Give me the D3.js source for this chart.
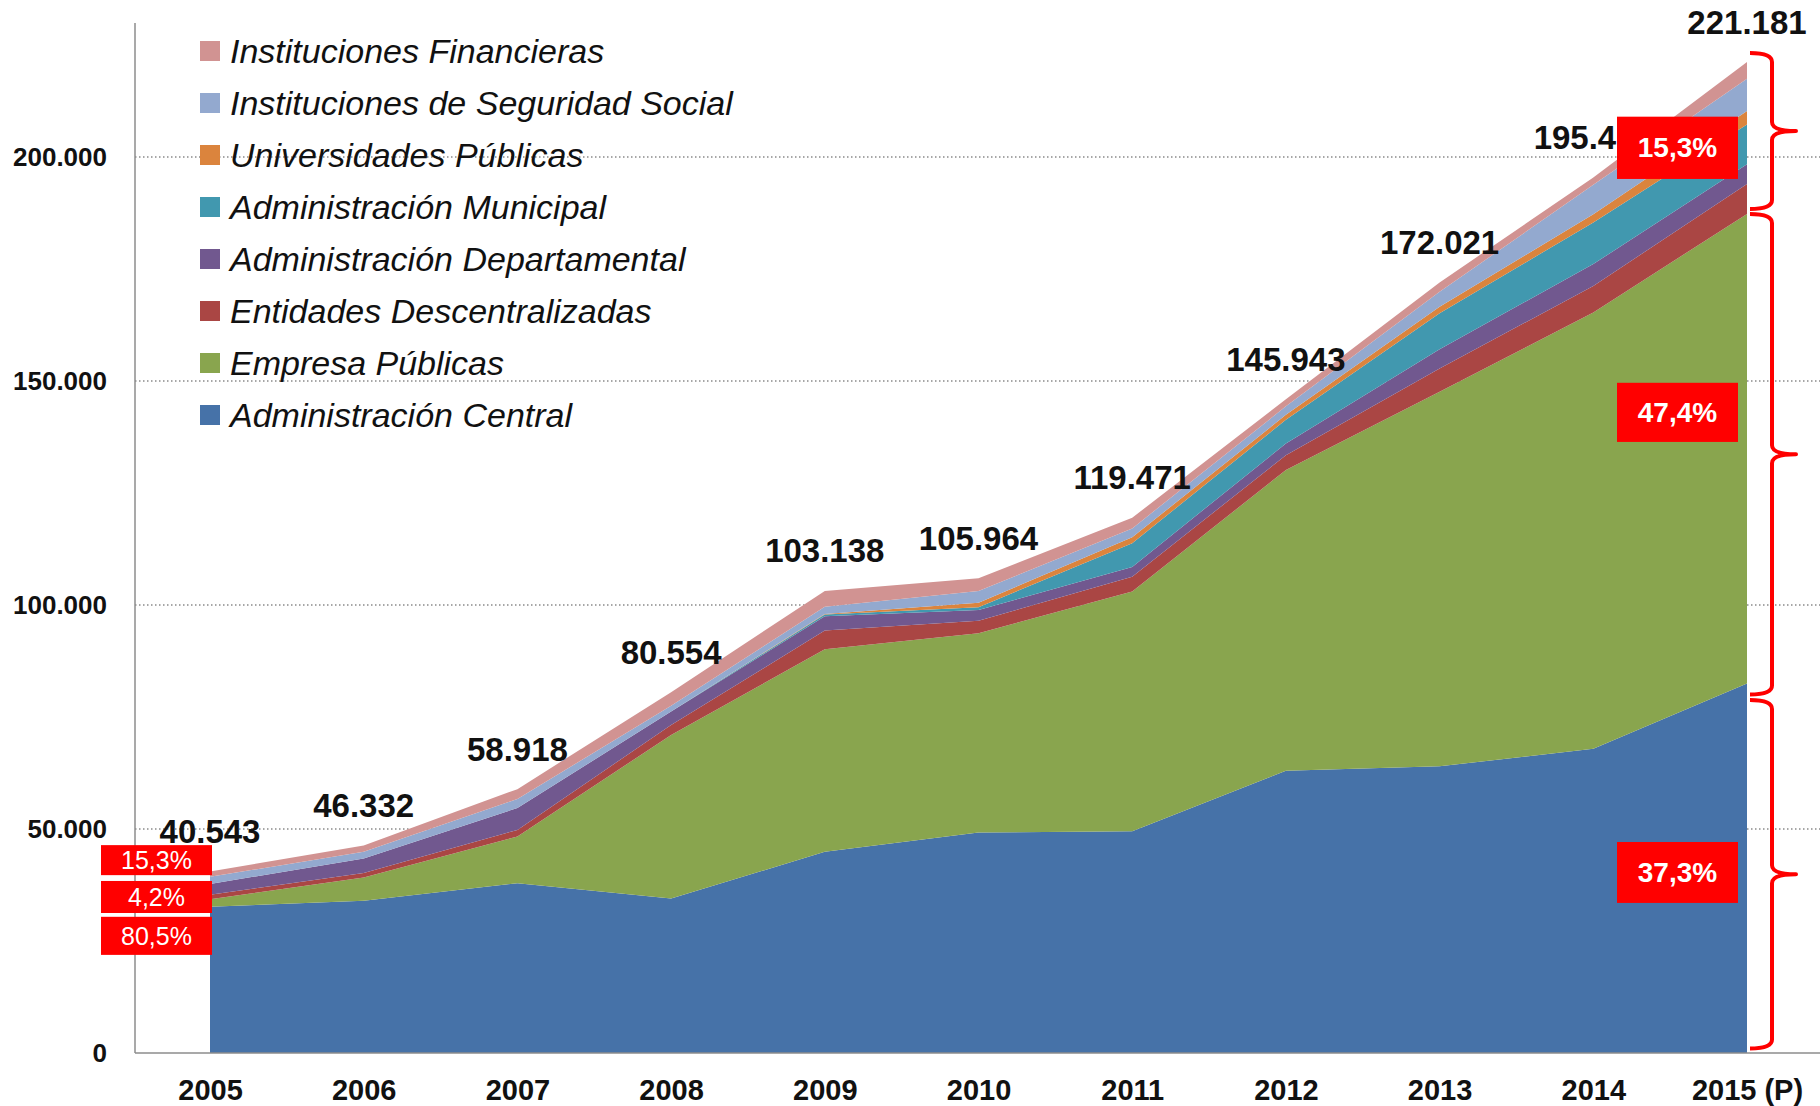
<!DOCTYPE html>
<html>
<head>
<meta charset="utf-8">
<script src="https://cdn.jsdelivr.net/npm/d3@7"></script>
<style>
  body { margin: 0; background: #fff; }
  svg { display: block; }
</style>
</head>
<body>
<svg id="chart" width="1820" height="1106"></svg>
<script>
const years = ['2005', '2006', '2007', '2008', '2009', '2010', '2011', '2012', '2013', '2014', '2015 (P)'];

// millones (bottom layer first)
const central        = [32640, 34000, 37900, 34500, 44900, 49200, 49500, 63000, 64000, 67900, 82500];
const empresas       = [1700, 5200, 10400, 36500, 45200, 44500, 53500, 67140, 83600, 97400, 104800];
const entidades      = [1000, 1000, 1500, 2200, 4200, 2800, 3300, 3300, 5200, 5900, 6680];
const departamental  = [2400, 3200, 4900, 3000, 3200, 2400, 2200, 2600, 4300, 4900, 4400];
const municipal      = [0, 0, 0, 0, 400, 600, 5300, 5300, 8000, 9300, 8900];
const universidades  = [0, 0, 0, 0, 100, 1000, 1300, 1100, 1500, 1800, 3000];
const seguridad      = [1600, 1500, 2000, 1300, 1600, 2600, 2000, 1900, 3300, 6600, 7200];
const financieras    = [1200, 1400, 2200, 3050, 3540, 2860, 2370, 1600, 2100, 1600, 3700];

const totals = [40543, 46332, 58918, 80554, 103138, 105964, 119471, 145943, 172021, 195400, 221181];
const yTicks = [0, 50000, 100000, 150000, 200000];

const seriesNames = [
  'Administración Central', 'Empresa Públicas', 'Entidades Descentralizadas',
  'Administración Departamental', 'Administración Municipal', 'Universidades Públicas',
  'Instituciones de Seguridad Social', 'Instituciones Financieras'
];
const seriesValues = [central, empresas, entidades, departamental, municipal, universidades, seguridad, financieras];
const colors = ['#4672A8', '#89A54E', '#AA4644', '#71588F', '#4198AF', '#DB843D', '#93A9CF', '#D19392'];

// annotation boxes (value ranges in data units)
const leftBoxes = [
  { text: '15,3%', top: 46400, bottom: 39700 },
  { text: '4,2%', top: 38400, bottom: 31250 },
  { text: '80,5%', top: 30400, bottom: 21900 }
];
const rightBoxes = [
  { text: '15,3%', top: 209000, bottom: 195100 },
  { text: '47,4%', top: 149600, bottom: 136400 },
  { text: '37,3%', top: 47100, bottom: 33500 }
];
const braces = [[188400, 223200], [80000, 187300], [1000, 78800]];

const fmt = d3.formatLocale({ decimal: ',', thousands: '.', grouping: [3], currency: ['', ''] }).format(',d');

const svg = d3.select('#chart');
const axisX = 135, baseY = 1053, rightX = 1820;

const x = d3.scalePoint().domain(years).range([210, 1747]);
const y = d3.scaleLinear().domain([0, 200000]).range([baseY, 157]);

const table = years.map((yr, i) => {
  const row = { year: yr };
  seriesNames.forEach((n, k) => row[n] = seriesValues[k][i]);
  return row;
});
const stacked = d3.stack().keys(seriesNames)(table);

// gridlines
svg.append('g')
  .selectAll('line')
  .data(yTicks.filter(d => d > 0))
  .join('line')
    .attr('x1', axisX).attr('x2', rightX)
    .attr('y1', d => y(d)).attr('y2', d => y(d))
    .attr('stroke', '#8a8a8a')
    .attr('stroke-width', 1.5)
    .attr('stroke-dasharray', '1.5,2.5');

const area = d3.area()
  .x(d => x(d.data.year))
  .y0(d => y(d[0]))
  .y1(d => y(d[1]));

svg.append('g')
  .selectAll('path')
  .data(stacked)
  .join('path')
    .attr('fill', (d, i) => colors[i])
    .attr('d', area);

// axes
svg.append('line')
  .attr('x1', axisX).attr('x2', axisX)
  .attr('y1', 23).attr('y2', baseY)
  .attr('stroke', '#8c8c8c').attr('stroke-width', 1.5);
svg.append('line')
  .attr('x1', axisX).attr('x2', rightX)
  .attr('y1', baseY).attr('y2', baseY)
  .attr('stroke', '#8c8c8c').attr('stroke-width', 1.5);

const yAxis = svg.append('g')
  .attr('transform', `translate(${axisX},0)`)
  .call(d3.axisLeft(y).tickValues(yTicks).tickFormat(fmt).tickSize(0).tickPadding(28));
yAxis.select('.domain').remove();
yAxis.selectAll('text')
  .attr('font-family', 'Liberation Sans, Arial, sans-serif')
  .attr('font-size', 26)
  .attr('font-weight', 'bold')
  .attr('fill', '#111');

const xAxis = svg.append('g')
  .attr('transform', `translate(0,${baseY})`)
  .call(d3.axisBottom(x).tickSize(0).tickPadding(26));
xAxis.select('.domain').remove();
xAxis.selectAll('text')
  .attr('font-family', 'Liberation Sans, Arial, sans-serif')
  .attr('font-size', 29)
  .attr('font-weight', 'bold')
  .attr('fill', '#111');

// legend (top entry = top layer)
const legend = svg.append('g')
  .selectAll('g')
  .data(seriesNames.map((n, i) => ({ name: n, color: colors[i] })).reverse())
  .join('g')
    .attr('transform', (d, i) => `translate(200,${51 + i * 52})`);
legend.append('rect')
  .attr('x', 0).attr('y', -10)
  .attr('width', 20).attr('height', 20)
  .attr('fill', d => d.color);
legend.append('text')
  .attr('x', 30).attr('y', 0)
  .attr('dominant-baseline', 'central')
  .attr('font-family', 'Liberation Sans, Arial, sans-serif')
  .attr('font-style', 'italic')
  .attr('font-size', 34)
  .attr('fill', '#111')
  .text(d => d.name);

// totals
svg.append('g')
  .selectAll('text')
  .data(totals)
  .join('text')
    .attr('x', (d, i) => x(years[i]))
    .attr('y', d => y(d) - 40)
    .attr('text-anchor', 'middle')
    .attr('dominant-baseline', 'central')
    .attr('font-family', 'Liberation Sans, Arial, sans-serif')
    .attr('font-weight', 'bold')
    .attr('font-size', 33)
    .attr('fill', '#111')
    .text(d => fmt(d));

// red boxes
function boxes(list, x0, x1, size, weight) {
  const g = svg.append('g').selectAll('g').data(list).join('g');
  g.append('rect')
    .attr('x', x0).attr('width', x1 - x0)
    .attr('y', d => y(d.top))
    .attr('height', d => y(d.bottom) - y(d.top))
    .attr('fill', '#FF0000');
  g.append('text')
    .attr('x', (x0 + x1) / 2)
    .attr('y', d => (y(d.top) + y(d.bottom)) / 2)
    .attr('text-anchor', 'middle')
    .attr('dominant-baseline', 'central')
    .attr('font-family', 'Liberation Sans, Arial, sans-serif')
    .attr('font-size', size)
    .attr('font-weight', weight)
    .attr('fill', '#fff')
    .text(d => d.text);
}
const firstX = x(years[0]), lastX = x(years[years.length - 1]);
boxes(leftBoxes, firstX - 109, firstX + 2, 25, 'normal');
boxes(rightBoxes, lastX - 130, lastX - 9, 28, 'bold');

// braces
function bracePath(bx, y0, y1, hook, tip) {
  const ym = (y0 + y1) / 2, r = 9;
  return `M${bx - hook},${y0} Q${bx},${y0} ${bx},${y0 + r} L${bx},${ym - r} ` +
         `Q${bx},${ym} ${bx + tip},${ym} Q${bx},${ym} ${bx},${ym + r} ` +
         `L${bx},${y1 - r} Q${bx},${y1} ${bx - hook},${y1}`;
}
svg.append('g')
  .selectAll('path')
  .data(braces)
  .join('path')
    .attr('d', d => bracePath(1772, y(d[1]), y(d[0]), 22, 24))
    .attr('fill', 'none')
    .attr('stroke', '#FF0000')
    .attr('stroke-width', 4)
    .attr('stroke-linejoin', 'round');
</script>
</body>
</html>
